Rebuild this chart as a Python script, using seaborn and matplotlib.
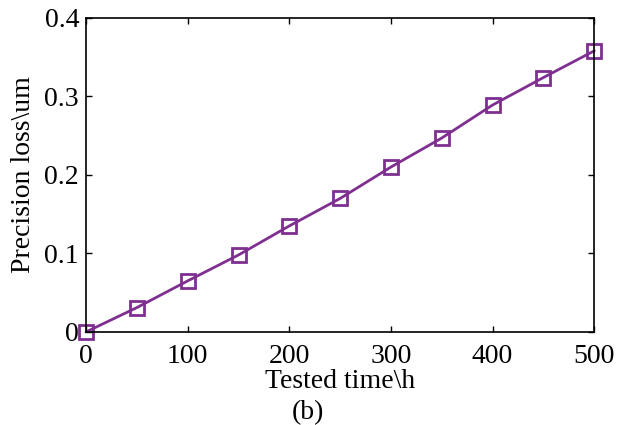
import matplotlib
matplotlib.use("Agg")
import matplotlib.pyplot as plt
import seaborn as sns
import pandas as pd

tested_time = [0, 50, 100, 150, 200, 250, 300, 350, 400, 450, 500]
precision_loss = [0.0, 0.031, 0.065, 0.098, 0.135, 0.170, 0.210, 0.247, 0.289, 0.324, 0.358]
x_ticks = [0, 100, 200, 300, 400, 500]
y_ticks = [0, 0.1, 0.2, 0.3, 0.4]
y_tick_labels = ["0", "0.1", "0.2", "0.3", "0.4"]

sns.set_style("ticks")
plt.rcParams['font.family'] = ['Liberation Serif', 'DejaVu Serif']
plt.rcParams['text.color'] = 'black'
plt.rcParams['axes.labelcolor'] = 'black'
plt.rcParams['xtick.color'] = 'black'
plt.rcParams['ytick.color'] = 'black'

color = "#7f2f90"
df = pd.DataFrame({"t": tested_time, "p": precision_loss})

fig = plt.figure(figsize=(6.19, 4.25), dpi=100)
ax = fig.add_axes([0.139, 0.219, 0.821, 0.739])
sns.lineplot(data=df, x="t", y="p", ax=ax, color=color, linewidth=2,
             marker="s", markersize=10, markerfacecolor="none",
             markeredgecolor=color, markeredgewidth=2, clip_on=False)

ax.set_xlim(0, 500)
ax.set_ylim(0, 0.4)
ax.set_xticks(x_ticks)
ax.set_yticks(y_ticks)
ax.set_yticklabels(y_tick_labels)
ax.tick_params(direction="in", top=True, right=True, length=4, width=1,
               labelsize=20, labelcolor="black")
ax.tick_params(axis="x", pad=9)
ax.tick_params(axis="y", pad=5)
for s in ax.spines.values():
    s.set_visible(True)
    s.set_linewidth(1.2)
    s.set_color("black")
ax.set_xlabel("Tested time\\h", fontsize=20, labelpad=0, color="black")
ax.set_ylabel("Precision loss\\um", fontsize=20, labelpad=6, color="black")
fig.text(0.498, 0.028, "(b)", fontsize=20, ha="center", va="center", color="black")

fig.savefig("out.png", dpi=100)
